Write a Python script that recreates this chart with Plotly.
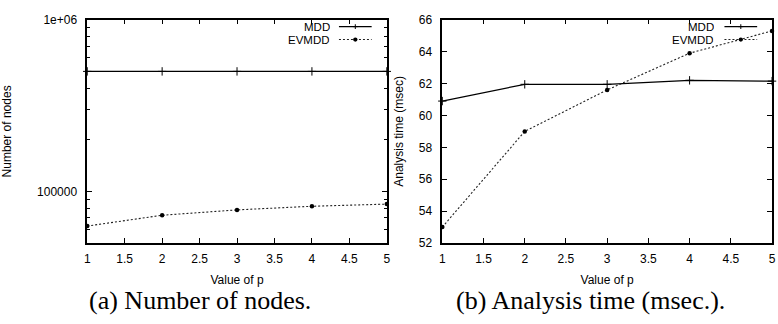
import math
import plotly.graph_objects as go

# ---- data ----
p_values = [1, 2, 3, 4, 5]
nodes_mdd = [500000, 500000, 500000, 500000, 500000]
nodes_evmdd = [62800, 72600, 78000, 81900, 84300]
time_mdd = [60.9, 61.95, 61.95, 62.2, 62.15]
time_evmdd = [53.0, 59.0, 61.6, 63.9, 65.3]

x_ticks = [1, 1.5, 2, 2.5, 3, 3.5, 4, 4.5, 5]
x_ticktext = ["1", "1.5", "2", "2.5", "3", "3.5", "4", "4.5", "5"]
nodes_ticks = [100000, 1000000]
nodes_ticktext = ["100000", "1e+06"]
nodes_minor = [60000, 70000, 80000, 90000, 200000, 300000, 400000, 500000,
               600000, 700000, 800000, 900000]
time_ticks = [52, 54, 56, 58, 60, 62, 64, 66]

W, H = 778, 324
def px(x):
    return x / W
def py(y):
    return 1 - y / H

SANS = "Liberation Sans, Arial, sans-serif"
SERIF = "Liberation Serif, Times New Roman, serif"

fig = go.Figure()

mdd_style = dict(mode="lines+markers", line=dict(color="black", width=1.2),
                 marker=dict(symbol="cross-thin", size=6, color="black",
                             line=dict(color="black", width=1)),
                 cliponaxis=False, showlegend=False)
ev_style = dict(mode="lines+markers",
                line=dict(color="#222", width=1.1, dash="2px,2px"),
                marker=dict(symbol="circle", size=4.5, color="black"),
                cliponaxis=False, showlegend=False)

fig.add_trace(go.Scatter(x=p_values, y=nodes_mdd, name="MDD", xaxis="x", yaxis="y", **mdd_style))
fig.add_trace(go.Scatter(x=p_values, y=nodes_evmdd, name="EVMDD", xaxis="x", yaxis="y", **ev_style))
fig.add_trace(go.Scatter(x=p_values, y=time_mdd, name="MDD", xaxis="x2", yaxis="y2", **mdd_style))
fig.add_trace(go.Scatter(x=p_values, y=time_evmdd, name="EVMDD", xaxis="x2", yaxis="y2", **ev_style))

axis_common = dict(showline=True, linecolor="black", linewidth=1.5, mirror="allticks",
                   ticks="inside", ticklen=5, tickwidth=1, tickcolor="black",
                   showgrid=False, zeroline=False,
                   tickfont=dict(family=SANS, size=12, color="black"))

ydom = [py(246.7), py(13.3)]

fig.update_layout(
    width=W, height=H, autosize=False,
    margin=dict(l=0, r=0, t=0, b=0),
    paper_bgcolor="white", plot_bgcolor="white",
    font=dict(family=SANS, size=12, color="black"),
    xaxis=dict(domain=[px(85), px(387.3)], range=[1, 5], tickvals=x_ticks, ticktext=x_ticktext,
               anchor="y", ticklabelstandoff=4,
               title=dict(text="Value of p", font=dict(family=SANS, size=12), standoff=10),
               **axis_common),
    yaxis=dict(domain=ydom, type="log", range=[math.log10(50000), 6],
               tickvals=nodes_ticks, ticktext=nodes_ticktext, anchor="x", ticklabelstandoff=6,
               minor=dict(tickvals=nodes_minor, ticks="inside", ticklen=3, tickcolor="black",
                          showgrid=False),
               title=dict(text="Number of nodes", font=dict(family=SANS, size=12), standoff=26),
               **axis_common),
    xaxis2=dict(domain=[px(443.3), px(776)], range=[1, 5], tickvals=x_ticks, ticktext=x_ticktext,
                anchor="y2", ticklabelstandoff=4,
                title=dict(text="Value of p", font=dict(family=SANS, size=12), standoff=10),
                **axis_common),
    yaxis2=dict(domain=ydom, range=[52, 66], tickvals=time_ticks, anchor="x2", ticklabelstandoff=6,
                title=dict(text="Analysis time (msec)", font=dict(family=SANS, size=12), standoff=13),
                **axis_common),
)

# captions
fig.add_annotation(text="(a) Number of nodes.", x=px(199), y=py(307), xref="paper", yref="paper",
                   showarrow=False, xanchor="center", yanchor="middle",
                   font=dict(family=SERIF, size=26, color="black"))
fig.add_annotation(text="(b) Analysis time (msec.).", x=px(593), y=py(307), xref="paper", yref="paper",
                   showarrow=False, xanchor="center", yanchor="middle",
                   font=dict(family=SERIF, size=26, color="black"))

# legends (key text right-aligned, sample to the right)
def add_key(text_right, sample_x0, sample_x1, y, label, kind):
    fig.add_annotation(text=label, x=px(text_right), y=py(y), xref="paper", yref="paper",
                       showarrow=False, xanchor="right", yanchor="middle",
                       height=10, borderpad=0, valign="middle",
                       font=dict(family=SANS, size=11.5, color="black"))
    xm = (sample_x0 + sample_x1) / 2
    if kind == "mdd":
        fig.add_shape(type="line", x0=px(sample_x0), x1=px(sample_x1), y0=py(y), y1=py(y),
                      xref="paper", yref="paper", line=dict(color="black", width=1.2))
        fig.add_shape(type="line", x0=px(xm - 2.5), x1=px(xm + 2.5), y0=py(y), y1=py(y),
                      xref="paper", yref="paper", line=dict(color="black", width=1))
        fig.add_shape(type="line", x0=px(xm), x1=px(xm), y0=py(y - 2.5), y1=py(y + 2.5),
                      xref="paper", yref="paper", line=dict(color="black", width=1))
    else:
        fig.add_shape(type="line", x0=px(sample_x0), x1=px(sample_x1), y0=py(y), y1=py(y),
                      xref="paper", yref="paper", line=dict(color="#222", width=1.1, dash="2px,2px"))
        fig.add_shape(type="circle", x0=px(xm - 2.2), x1=px(xm + 2.2), y0=py(y - 2.2), y1=py(y + 2.2),
                      xref="paper", yref="paper", fillcolor="black", line=dict(color="black", width=0))

add_key(331, 339, 372, 20.5, "MDD", "mdd")
add_key(331, 339, 372, 34, "EVMDD", "ev")
add_key(718, 728, 761, 20.5, "MDD", "mdd")
add_key(718, 728, 761, 34, "EVMDD", "ev")

fig.write_html("out.html", config={"displayModeBar": False},
               post_script="document.body.style.margin='0px';document.body.style.padding='0px';")
